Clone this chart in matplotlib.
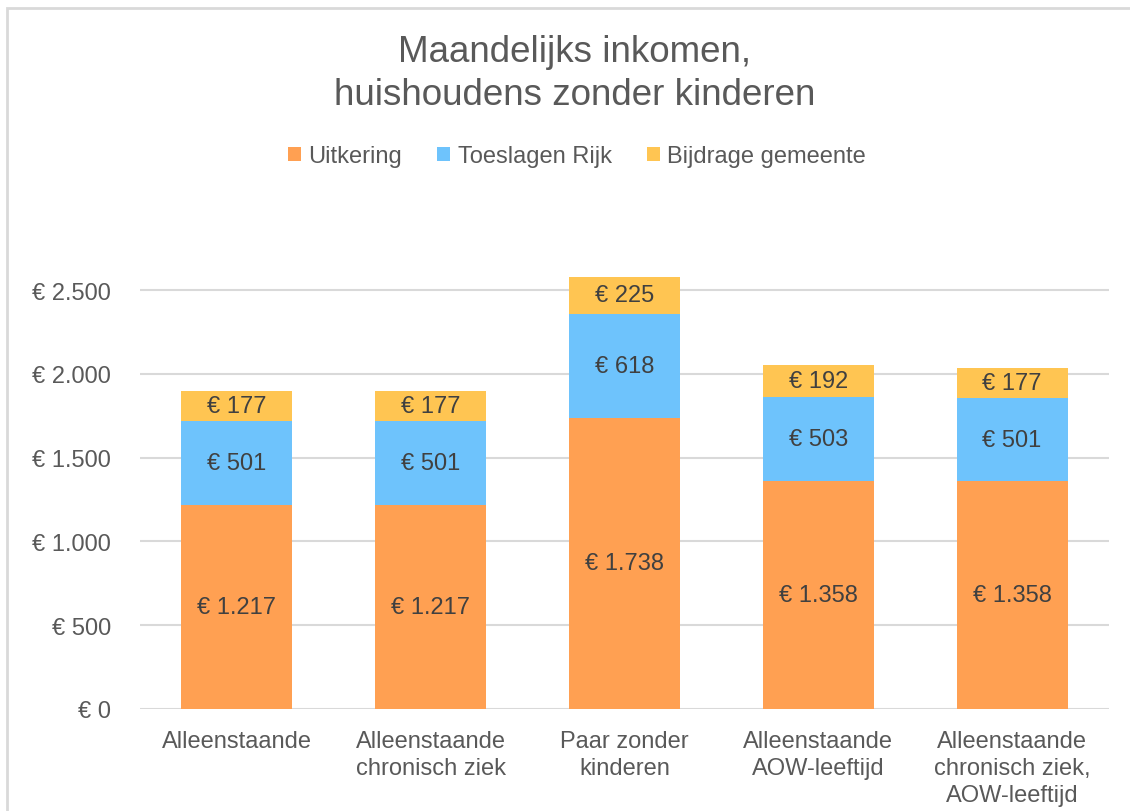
import numpy as np
import matplotlib.pyplot as plt
from matplotlib.patches import Rectangle

categories = ["Alleenstaande", "Alleenstaande\nchronisch ziek", "Paar zonder\nkinderen",
              "Alleenstaande\nAOW-leeftijd", "Alleenstaande\nchronisch ziek,\nAOW-leeftijd"]
uitkering = [1217, 1217, 1738, 1358, 1358]
toeslagen = [501, 501, 618, 503, 501]
gemeente = [177, 177, 225, 192, 177]

series = [("Uitkering", uitkering, "#FFA052"),
          ("Toeslagen Rijk", toeslagen, "#6EC3FC"),
          ("Bijdrage gemeente", gemeente, "#FFC552")]

plt.rcParams['font.family'] = ['Liberation Sans', 'DejaVu Sans']

W, H = 1130, 812
fig = plt.figure(figsize=(W / 100, H / 100), dpi=100)

# outer frame of the chart (cut off at right and bottom)
fig.patches.append(Rectangle((7 / W, -0.2), 1.5, (H - 9) / H + 0.2, transform=fig.transFigure,
                             fill=False, edgecolor="#D9D9D9", linewidth=2))

ax = fig.add_axes([140 / W, 102 / H, (1109 - 140) / W, (710 - 266) / H])

def euro(v):
    return "€ " + f"{v:,.0f}".replace(",", ".")

x = np.arange(len(categories))
bottom = np.zeros(len(categories))
for name, vals, col in series:
    vals = np.array(vals)
    ax.bar(x, vals, 0.573, bottom=bottom, color=col, label=name, zorder=3)
    for xi, b, v in zip(x, bottom, vals):
        ax.text(xi, b + v / 2, euro(v), ha='center', va='center', fontsize=17,
                color="#404040", zorder=4)
    bottom += vals

ax.set_xlim(-0.5, len(categories) - 0.5)
ax.set_ylim(0, 2650)
ax.set_yticks(np.arange(0, 2501, 500))
ax.set_yticklabels([euro(v) for v in np.arange(0, 2501, 500)])
ax.set_xticks(x)
ax.set_xticklabels(categories)
ax.tick_params(axis='both', length=0, labelsize=17, labelcolor="#595959")
ax.tick_params(axis='y', pad=21)
ax.tick_params(axis='x', pad=15)
for lab in ax.get_xticklabels():
    lab.set_linespacing(1.3)
ax.grid(axis='y', color="#D9D9D9", linewidth=1.5, zorder=0)
for s in ax.spines.values():
    s.set_visible(False)

fig.text(575 / W, 1 - 74 / H, "Maandelijks inkomen,\nhuishoudens zonder kinderen",
         ha='center', va='center', fontsize=26.5, color="#595959", linespacing=1.33)

fig.legend(loc='center', bbox_to_anchor=(577 / W, 1 - 157 / H), ncol=3, frameon=False,
           fontsize=17, handlelength=0.55, handleheight=0.55, handletextpad=0.3,
           columnspacing=1.5, labelcolor="#595959")

fig.savefig("out.png", dpi=100)
